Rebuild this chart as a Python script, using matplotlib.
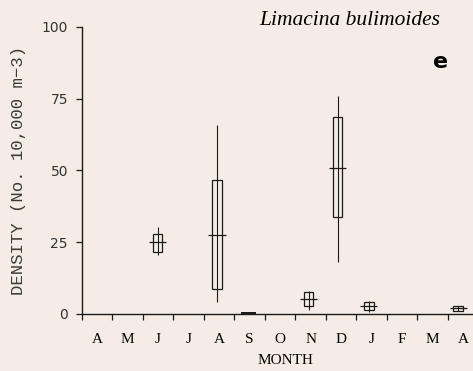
import matplotlib
matplotlib.use("Agg")
import matplotlib.pyplot as plt

# sampling positions (month index, 0 = April) and density stats
pos = [2.49, 4.43, 7.44, 8.39, 9.41, 12.33]
med = [25.0, 27.5, 5.1, 50.7, 2.8, 2.0]
q1 = [21.7, 8.7, 2.8, 33.7, 1.2, 0.9]
q3 = [27.9, 46.7, 7.6, 68.4, 4.1, 2.9]
lo = [20.6, 4.3, 1.4, 18.0, 0.8, 0.9]
hi = [30.4, 65.6, 8.0, 76.0, 4.6, 2.9]

# September: near-zero catch, drawn as a flat filled mark
sep_pos = 5.47
sep_val = 0.7

months = ["A", "M", "J", "J", "A", "S", "O", "N", "D", "J", "F", "M", "A"]
yticks = [0, 25, 50, 75, 100]

bg = "#f5ede5"
fig = plt.figure(figsize=(4.73, 3.71), dpi=100, facecolor=bg)
ax = fig.add_axes([0.173, 0.154, 0.827, 0.774], facecolor=bg)

ink = "#1a1a1a"
ax.vlines(pos, lo, hi, color=ink, lw=0.8)
ax.bar(pos, [b - a for a, b in zip(q1, q3)], bottom=q1, width=0.3,
       fill=False, edgecolor=ink, lw=0.9)
ax.hlines(med, [p - 0.28 for p in pos], [p + 0.28 for p in pos],
          color=ink, lw=0.9)
ax.bar([sep_pos], [sep_val], width=0.5, color=ink)

ax.set_xlim(0, 12.82)
ax.set_ylim(0, 100)
ax.set_xticks(range(13))
ax.set_xticklabels([])
ax.set_xticks([i + 0.5 for i in range(13)], minor=True)
ax.set_xticklabels(months, minor=True, family="Liberation Serif", fontsize=11)
ax.tick_params(axis="x", which="minor", length=0, pad=14)
ax.tick_params(axis="x", which="major", length=4, width=0.9, color=ink)
ax.set_yticks(yticks)
ax.set_yticklabels([str(v) for v in yticks], family="DejaVu Sans", fontsize=10,
                   color="#333333")
ax.tick_params(axis="y", length=4, width=0.9, color=ink, pad=6)

for s in ["top", "right"]:
    ax.spines[s].set_visible(False)
for s in ["left", "bottom"]:
    ax.spines[s].set_color(ink)
    ax.spines[s].set_linewidth(1.0)

ax.set_xlabel("MONTH", family="Liberation Serif", fontsize=11)
ax.xaxis.set_label_coords(0.52, -0.14)
ax.set_ylabel("DENSITY (No. 10,000 m\u22123)", family="Liberation Mono",
              fontsize=12.5, color="#3a3a3a")
ax.yaxis.set_label_coords(-0.143, 0.5)

fig.text(0.74, 0.946, "Limacina bulimoides", family="Liberation Serif",
         style="italic", fontsize=15.5, ha="center", va="center")
fig.text(0.932, 0.833, "e", family="DejaVu Sans", weight="bold", fontsize=16,
         ha="center", va="center")

fig.savefig("out.png", dpi=100, facecolor=bg)
